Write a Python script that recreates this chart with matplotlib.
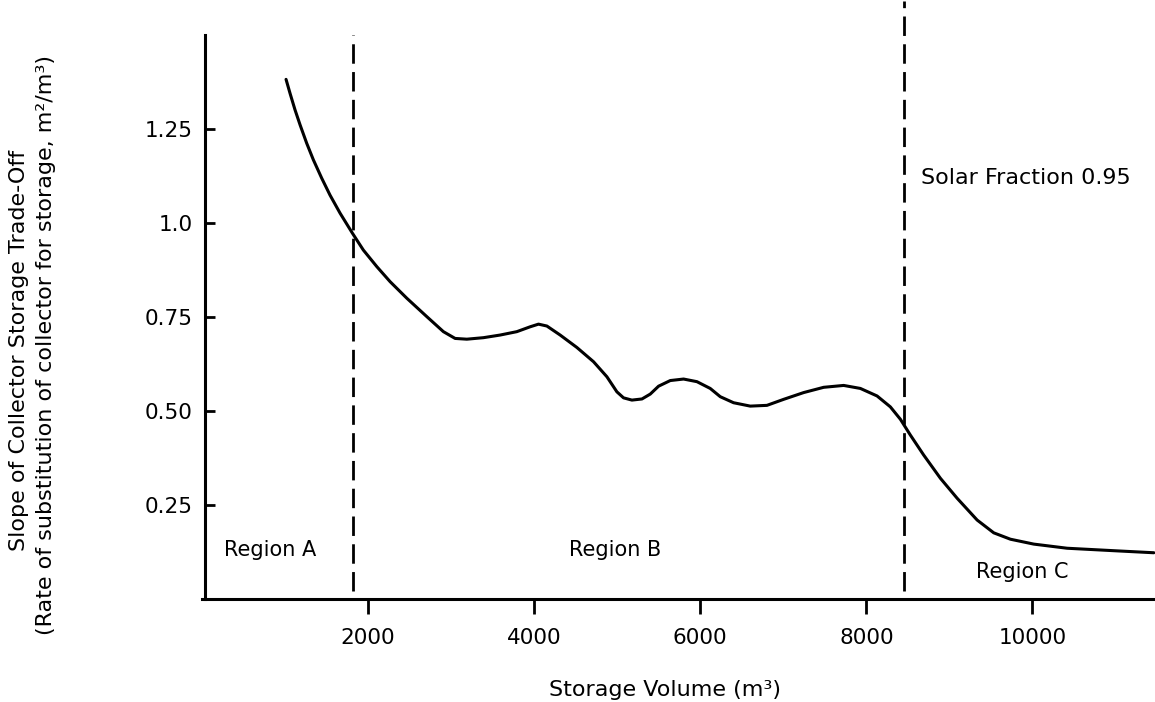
import matplotlib
matplotlib.use("Agg")
import matplotlib.pyplot as plt

plt.rcParams['font.family'] = ['DejaVu Sans']

# Storage volume (m^3) and slope of the collector/storage trade-off (m^2/m^3)
volume = [1012, 1060, 1120, 1181, 1261, 1341, 1442, 1542, 1663, 1811, 1943,
          2105, 2265, 2466, 2707, 2907, 3048, 3189, 3389, 3590, 3791, 3952,
          4052, 4153, 4313, 4514, 4715, 4876, 4996, 5076, 5177, 5298, 5398,
          5498, 5639, 5799, 5960, 6120, 6241, 6401, 6602, 6803, 7004, 7245,
          7486, 7727, 7928, 8129, 8289, 8410, 8530, 8690, 8892, 9093, 9334,
          9534, 9735, 10016, 10418, 11020, 11462]
slope = [1.382, 1.345, 1.301, 1.261, 1.212, 1.168, 1.119, 1.074, 1.026, 0.973,
         0.928, 0.884, 0.844, 0.800, 0.751, 0.711, 0.693, 0.691, 0.695, 0.702,
         0.711, 0.724, 0.731, 0.726, 0.702, 0.669, 0.631, 0.591, 0.551, 0.535,
         0.529, 0.532, 0.545, 0.566, 0.581, 0.585, 0.578, 0.560, 0.538, 0.522,
         0.513, 0.515, 0.531, 0.549, 0.563, 0.568, 0.560, 0.540, 0.511, 0.478,
         0.436, 0.383, 0.321, 0.268, 0.210, 0.176, 0.159, 0.146, 0.135, 0.128,
         0.123]

boundaries = [1820, 8450]
x_ticks = [2000, 4000, 6000, 8000, 10000]
y_ticks = [0.25, 0.5, 0.75, 1.0, 1.25]
y_tick_labels = ['0.25', '0.50', '0.75', '1.0', '1.25']
regions = [("Region A", 820, 0.13), ("Region B", 4980, 0.13), ("Region C", 9880, 0.072)]

W, H = 1155, 702
fig = plt.figure(figsize=(W / 100, H / 100), dpi=100)
left, right, bottom, top = 202, 1157, 599, 35
ax = fig.add_axes([left / W, 1 - bottom / H, (right - left) / W, (bottom - top) / H])
ax.set_xlim(0, 11500)
ax.set_ylim(0, 1.5)

for s in ['top', 'right']:
    ax.spines[s].set_visible(False)
for s in ['left', 'bottom']:
    ax.spines[s].set_linewidth(2.2)
ax.spines['left'].set_position(('data', 35))

ax.plot(volume, slope, color='black', lw=2.2, solid_capstyle='round', solid_joinstyle='round')

ax.plot([boundaries[0]] * 2, [0.02, 1.5], color='black', lw=2.0, dashes=(7, 3))
ax.plot([boundaries[1]] * 2, [0.02, 1.59], color='black', lw=2.0, dashes=(7, 3), clip_on=False)

ax.set_xticks(x_ticks)
ax.set_xticklabels([str(v) for v in x_ticks], fontsize=15.5)
ax.set_yticks(y_ticks)
ax.set_yticklabels(y_tick_labels, fontsize=15.5)
ax.tick_params(axis='x', direction='out', length=11, width=2, pad=10)
ax.tick_params(axis='y', direction='in', length=7, width=2, pad=9)

for label, x, y in regions:
    ax.text(x, y, label, fontsize=15, ha='center', va='center')
ax.text(8660, 1.12, "Solar Fraction 0.95", fontsize=16, ha='left', va='center')

fig.text(665 / W, 1 - 690 / H, "Storage Volume (m³)", fontsize=16, ha='center', va='center')
fig.text(19 / W, 1 - 350 / H, "Slope of Collector Storage Trade-Off",
         fontsize=16, rotation=90, ha='center', va='center')
fig.text(46 / W, 1 - 345 / H, "(Rate of substitution of collector for storage, m²/m³)",
         fontsize=16, rotation=90, ha='center', va='center')

fig.savefig("out.png", dpi=100)
